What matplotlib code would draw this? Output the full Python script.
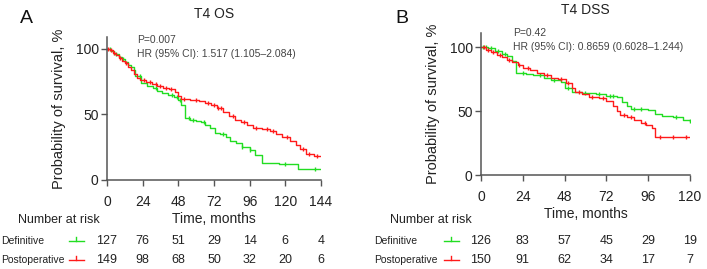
import matplotlib
matplotlib.use("Agg")
import matplotlib.pyplot as plt
import matplotlib.transforms as mtransforms
import numpy as np

plt.rcParams['font.family'] = ['Liberation Sans', 'DejaVu Sans']

GREEN = '#22dd22'
RED = '#ff1a1a'

# ---- panel A : T4 OS ----
os_def_t = [0, 3, 5, 8, 10, 12, 14, 16, 18, 19, 23, 27, 31, 34, 37, 41, 45, 48, 50, 52.5, 56, 60, 63,
            66, 69, 73, 76, 80, 83, 87, 91, 96, 99.6, 104, 116, 128.5, 144]
os_def_s = [100, 98, 96, 94, 92, 90, 88, 86, 84, 79, 74, 72, 70, 68, 66, 65, 63, 61, 57, 47, 46, 45, 44,
            42, 40, 36, 35, 33, 30, 28, 25, 23, 19, 13, 12, 8, 8]
os_post_t = [0, 2, 4, 6, 8, 10, 12, 14, 16, 18, 20, 22, 26, 30, 34, 38, 42, 46, 48, 50, 56, 62, 66, 70,
             74, 78, 82, 86, 90, 94, 98, 104, 110, 114, 118, 123, 127, 130, 134, 139, 144]
os_post_s = [100, 99, 97, 95, 93, 91, 89, 86, 84, 81, 78, 76, 75, 73, 72, 70, 69, 67, 64, 62, 61, 60, 59,
             57, 55, 52, 49, 46, 44, 42, 40, 39, 37, 35, 33, 30, 27, 24, 20, 18, 18]
os_def_cens = [2, 6, 11, 22, 33, 44, 47, 49, 55, 58, 65, 78, 91, 96, 120, 140]
os_post_cens = [1, 3, 5, 9, 13, 25, 29, 33, 36, 40, 43, 52, 60, 68, 72, 75, 77, 85, 92, 100, 108, 112, 121,
                132, 136, 141]
os_ticks = [0, 24, 48, 72, 96, 120, 144]
os_risk_def = [127, 76, 51, 29, 14, 6, 4]
os_risk_post = [149, 98, 68, 50, 32, 20, 6]

# ---- panel B : T4 DSS ----
dss_def_t = [0, 4, 8, 12, 15, 18, 20, 26, 30, 36, 40, 46, 48, 52, 58, 66, 72, 78, 81, 84, 86, 96, 100,
             104, 110, 116, 120]
dss_def_s = [100, 99, 97, 95, 93, 89, 80, 79, 78, 76, 74, 73, 68, 65, 64, 63, 62, 61, 57, 54, 52, 51, 48,
             46, 45, 43, 42]
dss_post_t = [0, 3, 6, 9, 12, 15, 18, 21, 24, 28, 32, 36, 40, 44, 49, 52, 54, 58, 62, 68, 72, 76, 78, 80,
              84, 88, 92, 95, 98, 100, 120]
dss_post_s = [100, 98, 96, 94, 92, 90, 88, 86, 84, 82, 80, 78, 76, 75, 72, 68, 65, 63, 61, 60, 58, 54, 50,
              47, 45, 43, 41, 39, 37, 30, 30]
dss_def_cens = [1, 3, 6, 10, 14, 24, 34, 42, 50, 60, 68, 74, 76, 88, 92, 112, 120]
dss_post_cens = [2, 4, 7, 11, 16, 22, 27, 38, 46, 50, 56, 64, 70, 82, 86, 94, 103, 110, 118]
dss_ticks = [0, 24, 48, 72, 96, 120]
dss_risk_def = [126, 83, 57, 45, 29, 19]
dss_risk_post = [150, 91, 62, 34, 17, 7]


def surv_at(t, s, pts):
    idx = np.searchsorted(t, pts, side='right') - 1
    return np.array(s)[idx]


def km_panel(ax, curves, ticks, xmax, ytop, title, ptxt, hrtxt, txy):
    for t, s, cens, col in curves:
        ax.step(t, s, where='post', color=col, lw=1.0)
        ax.plot(cens, surv_at(t, s, cens), ls='none', marker='|', ms=3.5, mew=1.0, color=col)
    ax.set_xlim(0, xmax)
    ax.set_ylim(0, ytop)
    ax.set_xticks(ticks)
    ax.set_yticks([0, 50, 100])
    for side in ['top', 'right']:
        ax.spines[side].set_visible(False)
    for side in ['left', 'bottom']:
        ax.spines[side].set_color('#555555')
        ax.spines[side].set_linewidth(1.1)
    ax.tick_params(direction='out', length=4, width=1.0, color='#555555', labelsize=10,
                   labelcolor='#222222', pad=2)
    ax.tick_params(axis='x', pad=7)
    ax.set_ylabel('Probability of survival, %', fontsize=10.5, color='#222222', labelpad=7)
    ax.set_xlabel('Time, months', fontsize=10, color='#222222', labelpad=2)
    ax.set_title(title, fontsize=10, color='#222222', pad=14)
    ax.text(txy[0], txy[1], ptxt, fontsize=7.5, color='#444444', va='bottom')
    ax.text(txy[0], txy[1] - 11, hrtxt, fontsize=7.5, color='#444444', va='bottom')
    return ax


fig = plt.figure(figsize=(7.07, 2.69), dpi=100)

axA = fig.add_axes([0.1513, 0.3309, 0.3027, 0.5316])
km_panel(axA, [(os_def_t, os_def_s, os_def_cens, GREEN), (os_post_t, os_post_s, os_post_cens, RED)],
         os_ticks, 144, 109, 'T4 OS', 'P=0.007', 'HR (95% CI): 1.517 (1.105\u20132.084)', (20.5, 103))

axB = fig.add_axes([0.6803, 0.3494, 0.2956, 0.5276])
km_panel(axB, [(dss_def_t, dss_def_s, dss_def_cens, GREEN), (dss_post_t, dss_post_s, dss_post_cens, RED)],
         dss_ticks, 120, 111, 'T4 DSS', 'P=0.42', 'HR (95% CI): 0.8659 (0.6028\u20131.244)', (18.4, 107))

fig.text(0.037, 0.93, 'A', fontsize=14, ha='center', va='center', color='#111111')
fig.text(0.568, 0.93, 'B', fontsize=14, ha='center', va='center', color='#111111')

# number at risk tables
for ax, ticks, rdef, rpost, x_nr, x_lab, seg in [
        (axA, os_ticks, os_risk_def, os_risk_post, 0.025, 0.001, (0.097, 0.119)),
        (axB, dss_ticks, dss_risk_def, dss_risk_post, 0.552, 0.529, (0.628, 0.649))]:
    tr = mtransforms.blended_transform_factory(ax.transData, fig.transFigure)
    fig.text(x_nr, 0.182, 'Number at risk', fontsize=9, color='#222222', va='center')
    fig.text(x_lab, 0.104, 'Definitive', fontsize=7.5, color='#222222', va='center')
    fig.text(x_lab, 0.034, 'Postoperative', fontsize=7.5, color='#222222', va='center')
    for yy, col in [(0.104, GREEN), (0.034, RED)]:
        fig.add_artist(plt.Line2D(seg, [yy, yy], color=col, lw=1.0, transform=fig.transFigure))
        fig.add_artist(plt.Line2D([(seg[0] + seg[1]) / 2] * 2, [yy, yy + 0.015], color=col, lw=1.0,
                                  transform=fig.transFigure))
    for x, a, b in zip(ticks, rdef, rpost):
        ax.text(x, 0.104, str(a), transform=tr, fontsize=9, color='#222222', ha='center', va='center')
        ax.text(x, 0.034, str(b), transform=tr, fontsize=9, color='#222222', ha='center', va='center')

fig.savefig('out.png', dpi=100)
